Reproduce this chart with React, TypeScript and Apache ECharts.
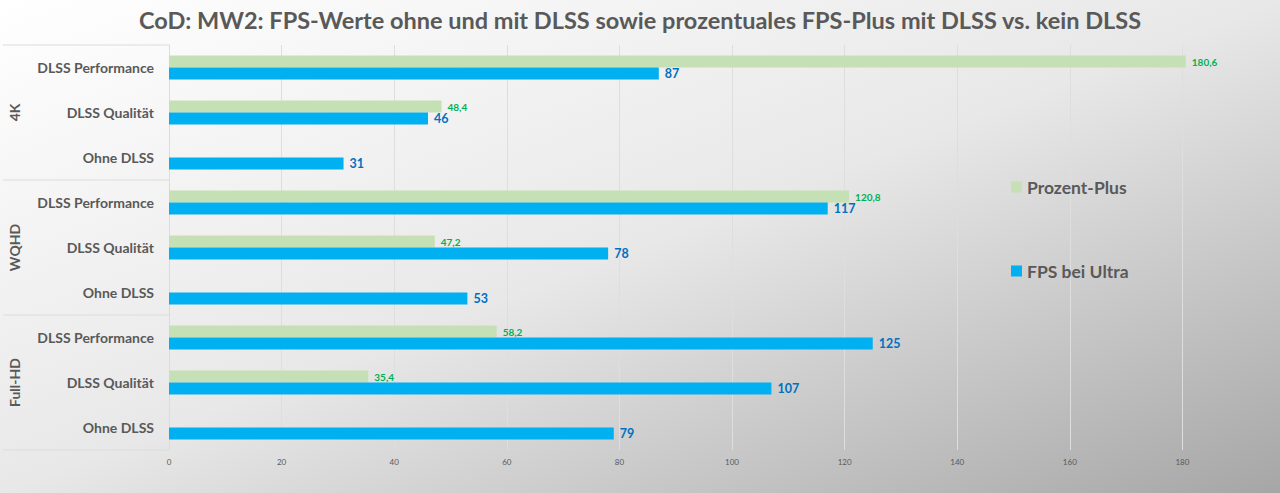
import React, { useEffect, useRef } from "react";
import * as echarts from "echarts";

const categories = [
  "DLSS Performance", "DLSS Qualität", "Ohne DLSS",
  "DLSS Performance", "DLSS Qualität", "Ohne DLSS",
  "DLSS Performance", "DLSS Qualität", "Ohne DLSS",
];
const groups = ["4K", "WQHD", "Full-HD"];
const prozentPlus: (number | null)[] = [180.6, 48.4, null, 120.8, 47.2, null, 58.2, 35.4, null];
const fpsUltra = [87, 46, 31, 117, 78, 53, 125, 107, 79];
const seriesNames = ["Prozent-Plus", "FPS bei Ultra"];

const TITLE = "CoD: MW2: FPS-Werte ohne und mit DLSS sowie prozentuales FPS-Plus mit DLSS vs. kein DLSS";

const GRID_TOP = 45;
const GRID_H = 405;
const GRID_LEFT = 169;
const GRID_W = 1126;
const FONT = "Lato, 'Open Sans', sans-serif";
const TXT = "#595959";

export default function App() {
  const ref = useRef<HTMLDivElement>(null);
  useEffect(() => {
    if (!ref.current) return;
    const chart = echarts.init(ref.current, undefined, { renderer: "svg" });
    const groupH = GRID_H / groups.length;
    const graphics: any[] = [];
    for (let i = 0; i <= groups.length; i++) {
      graphics.push({
        type: "line",
        shape: { x1: 3, y1: GRID_TOP + i * groupH, x2: GRID_LEFT, y2: GRID_TOP + i * groupH },
        style: { stroke: "#dcdcdc", lineWidth: 1 },
      });
    }
    groups.forEach((g, i) => {
      graphics.push({
        type: "text",
        x: 14,
        y: GRID_TOP + (i + 0.5) * groupH,
        rotation: Math.PI / 2,
        style: {
          text: g,
          fill: TXT,
          font: `bold 14px ${FONT}`,
          align: "center",
          verticalAlign: "middle",
        },
      });
    });
    chart.setOption({
      animation: false,
      backgroundColor: "transparent",
      title: {
        text: TITLE,
        left: "center",
        top: 3,
        textStyle: { fontFamily: FONT, fontWeight: "bold", fontSize: 23.5, color: TXT },
      },
      legend: {
        orient: "vertical",
        left: 1006,
        top: 173,
        itemGap: 66,
        itemWidth: 11,
        itemHeight: 11,
        icon: "rect",
        data: seriesNames,
        textStyle: { fontFamily: FONT, fontWeight: "bold", fontSize: 17.5, color: TXT },
      },
      grid: {
        left: GRID_LEFT,
        width: GRID_W,
        top: GRID_TOP,
        height: GRID_H,
        containLabel: false,
        outerBoundsMode: "none",
      },
      xAxis: {
        type: "value",
        min: 0,
        max: 200,
        interval: 20,
        axisLine: { show: false },
        axisTick: { show: false },
        axisLabel: { fontFamily: FONT, fontSize: 8, color: TXT, margin: 8, showMaxLabel: false },
        splitLine: { lineStyle: { color: "#dedede", width: 1 } },
      },
      yAxis: {
        type: "category",
        inverse: true,
        data: categories,
        axisLine: { show: true, lineStyle: { color: "#dcdcdc" } },
        axisTick: { show: false },
        axisLabel: { fontFamily: FONT, fontWeight: "bold", fontSize: 14, color: TXT, margin: 15 },
      },
      graphic: graphics,
      series: [
        {
          name: seriesNames[0],
          type: "bar",
          data: prozentPlus,
          barWidth: 12,
          barGap: "0%",
          itemStyle: { color: "#c5e0b4" },
          label: {
            show: true,
            position: "right",
            distance: 6,
            fontFamily: FONT,
            fontWeight: "bold",
            fontSize: 10,
            color: "#00b050",
            formatter: (p: any) => String(p.value).replace(".", ","),
          },
        },
        {
          name: seriesNames[1],
          type: "bar",
          data: fpsUltra,
          barWidth: 12,
          barGap: "0%",
          itemStyle: { color: "#00b0f0" },
          label: {
            show: true,
            position: "right",
            distance: 6,
            fontFamily: FONT,
            fontWeight: "bold",
            fontSize: 12.5,
            color: "#0070c0",
          },
        },
      ],
    });
    return () => chart.dispose();
  }, []);
  return (
    <div
      style={{
        position: "fixed",
        left: 0,
        top: 0,
        width: 1280,
        height: 493,
        background: "linear-gradient(to bottom right, #ffffff 0%, #e8e8e8 50%, #a6a6a6 100%)",
      }}
    >
      <div ref={ref} style={{ width: 1280, height: 493 }} />
    </div>
  );
}
